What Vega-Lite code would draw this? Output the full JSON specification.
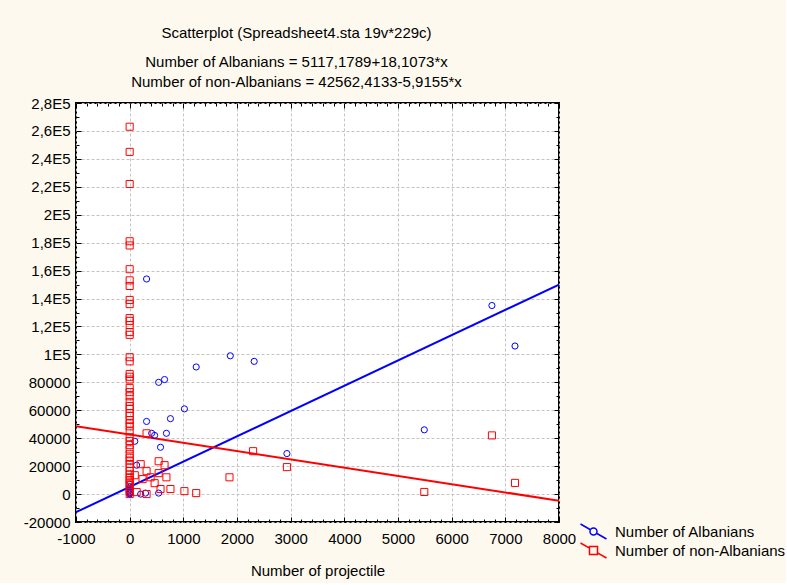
{
  "$schema": "https://vega.github.io/schema/vega-lite/v6.json",
  "width": 483,
  "height": 419,
  "padding": {"left": 23, "top": 26, "right": 0, "bottom": 5},
  "background": "#FDF9EE",
  "config": {
    "view": {"stroke": "black", "strokeWidth": 2, "fill": "white"},
    "font": "Liberation Sans",
    "axis": {"labelFont": "Liberation Sans", "titleFont": "Liberation Sans", "labelColor": "black", "titleColor": "black", "tickColor": "black", "labelFontSize": 15, "titleFontSize": 15, "titleFontWeight": "normal", "domain": false}
  },
  "title": {
    "text": "Scatterplot (Spreadsheet4.sta 19v*229c)",
    "subtitle": ["Number of Albanians = 5117,1789+18,1073*x", "Number of non-Albanians = 42562,4133-5,9155*x"],
    "anchor": "middle",
    "dx": -21,
    "font": "Liberation Sans",
    "fontSize": 15,
    "fontWeight": "normal",
    "color": "black",
    "subtitleFont": "Liberation Sans",
    "subtitleFontSize": 15,
    "subtitleColor": "black",
    "subtitlePadding": 14,
    "subtitleLineHeight": 20,
    "offset": 6
  },
  "datasets": {
    "pts": [
      {"x": 315, "n": 154000, "group": "Number of Albanians"},
      {"x": 6750, "n": 135000, "group": "Number of Albanians"},
      {"x": 7180, "n": 106000, "group": "Number of Albanians"},
      {"x": 1875, "n": 99000, "group": "Number of Albanians"},
      {"x": 2320, "n": 95000, "group": "Number of Albanians"},
      {"x": 1240, "n": 91000, "group": "Number of Albanians"},
      {"x": 650, "n": 82000, "group": "Number of Albanians"},
      {"x": 540, "n": 80000, "group": "Number of Albanians"},
      {"x": 1020, "n": 61000, "group": "Number of Albanians"},
      {"x": 315, "n": 52000, "group": "Number of Albanians"},
      {"x": 760, "n": 54000, "group": "Number of Albanians"},
      {"x": 410, "n": 43500, "group": "Number of Albanians"},
      {"x": 465, "n": 42000, "group": "Number of Albanians"},
      {"x": 685, "n": 43500, "group": "Number of Albanians"},
      {"x": 575, "n": 33500, "group": "Number of Albanians"},
      {"x": 95, "n": 37800, "group": "Number of Albanians"},
      {"x": 130, "n": 20700, "group": "Number of Albanians"},
      {"x": 540, "n": 700, "group": "Number of Albanians"},
      {"x": 295, "n": 700, "group": "Number of Albanians"},
      {"x": 205, "n": 0, "group": "Number of Albanians"},
      {"x": 2930, "n": 29000, "group": "Number of Albanians"},
      {"x": 5490, "n": 46000, "group": "Number of Albanians"},
      {"x": 0, "n": 0, "group": "Number of Albanians"},
      {"x": 0, "n": 500, "group": "Number of Albanians"},
      {"x": 0, "n": 1000, "group": "Number of Albanians"},
      {"x": 0, "n": 1500, "group": "Number of Albanians"},
      {"x": 0, "n": 2500, "group": "Number of Albanians"},
      {"x": 0, "n": 3500, "group": "Number of Albanians"},
      {"x": 0, "n": 5000, "group": "Number of Albanians"},
      {"x": 0, "n": 7000, "group": "Number of Albanians"},
      {"x": 315, "n": 43500, "group": "Number of non-Albanians"},
      {"x": 205, "n": 21400, "group": "Number of non-Albanians"},
      {"x": 95, "n": 13500, "group": "Number of non-Albanians"},
      {"x": 315, "n": 16400, "group": "Number of non-Albanians"},
      {"x": 240, "n": 10700, "group": "Number of non-Albanians"},
      {"x": 390, "n": 12000, "group": "Number of non-Albanians"},
      {"x": 540, "n": 23500, "group": "Number of non-Albanians"},
      {"x": 650, "n": 20700, "group": "Number of non-Albanians"},
      {"x": 540, "n": 15000, "group": "Number of non-Albanians"},
      {"x": 685, "n": 12000, "group": "Number of non-Albanians"},
      {"x": 465, "n": 7800, "group": "Number of non-Albanians"},
      {"x": 575, "n": 3600, "group": "Number of non-Albanians"},
      {"x": 760, "n": 3600, "group": "Number of non-Albanians"},
      {"x": 1020, "n": 2100, "group": "Number of non-Albanians"},
      {"x": 1240, "n": 700, "group": "Number of non-Albanians"},
      {"x": 130, "n": 1400, "group": "Number of non-Albanians"},
      {"x": 315, "n": 0, "group": "Number of non-Albanians"},
      {"x": 1860, "n": 12000, "group": "Number of non-Albanians"},
      {"x": 2300, "n": 30700, "group": "Number of non-Albanians"},
      {"x": 2930, "n": 19300, "group": "Number of non-Albanians"},
      {"x": 5490, "n": 1500, "group": "Number of non-Albanians"},
      {"x": 6750, "n": 42000, "group": "Number of non-Albanians"},
      {"x": 7180, "n": 8000, "group": "Number of non-Albanians"},
      {"x": 0, "n": 263000, "group": "Number of non-Albanians"},
      {"x": 0, "n": 245000, "group": "Number of non-Albanians"},
      {"x": 0, "n": 222000, "group": "Number of non-Albanians"},
      {"x": 0, "n": 181000, "group": "Number of non-Albanians"},
      {"x": 0, "n": 178000, "group": "Number of non-Albanians"},
      {"x": 0, "n": 161000, "group": "Number of non-Albanians"},
      {"x": 0, "n": 153000, "group": "Number of non-Albanians"},
      {"x": 0, "n": 149000, "group": "Number of non-Albanians"},
      {"x": 0, "n": 139000, "group": "Number of non-Albanians"},
      {"x": 0, "n": 136000, "group": "Number of non-Albanians"},
      {"x": 0, "n": 126000, "group": "Number of non-Albanians"},
      {"x": 0, "n": 124000, "group": "Number of non-Albanians"},
      {"x": 0, "n": 121000, "group": "Number of non-Albanians"},
      {"x": 0, "n": 116000, "group": "Number of non-Albanians"},
      {"x": 0, "n": 114000, "group": "Number of non-Albanians"},
      {"x": 0, "n": 98000, "group": "Number of non-Albanians"},
      {"x": 0, "n": 95000, "group": "Number of non-Albanians"},
      {"x": 0, "n": 86000, "group": "Number of non-Albanians"},
      {"x": 0, "n": 84000, "group": "Number of non-Albanians"},
      {"x": 0, "n": 82000, "group": "Number of non-Albanians"},
      {"x": 0, "n": 76000, "group": "Number of non-Albanians"},
      {"x": 0, "n": 73000, "group": "Number of non-Albanians"},
      {"x": 0, "n": 70000, "group": "Number of non-Albanians"},
      {"x": 0, "n": 66000, "group": "Number of non-Albanians"},
      {"x": 0, "n": 63000, "group": "Number of non-Albanians"},
      {"x": 0, "n": 61000, "group": "Number of non-Albanians"},
      {"x": 0, "n": 58000, "group": "Number of non-Albanians"},
      {"x": 0, "n": 56000, "group": "Number of non-Albanians"},
      {"x": 0, "n": 53000, "group": "Number of non-Albanians"},
      {"x": 0, "n": 50500, "group": "Number of non-Albanians"},
      {"x": 0, "n": 48500, "group": "Number of non-Albanians"},
      {"x": 0, "n": 45000, "group": "Number of non-Albanians"},
      {"x": 0, "n": 40700, "group": "Number of non-Albanians"},
      {"x": 0, "n": 38000, "group": "Number of non-Albanians"},
      {"x": 0, "n": 35000, "group": "Number of non-Albanians"},
      {"x": 0, "n": 32000, "group": "Number of non-Albanians"},
      {"x": 0, "n": 28500, "group": "Number of non-Albanians"},
      {"x": 0, "n": 26000, "group": "Number of non-Albanians"},
      {"x": 0, "n": 24000, "group": "Number of non-Albanians"},
      {"x": 0, "n": 21500, "group": "Number of non-Albanians"},
      {"x": 0, "n": 19000, "group": "Number of non-Albanians"},
      {"x": 0, "n": 16500, "group": "Number of non-Albanians"},
      {"x": 0, "n": 14000, "group": "Number of non-Albanians"},
      {"x": 0, "n": 12000, "group": "Number of non-Albanians"},
      {"x": 0, "n": 10000, "group": "Number of non-Albanians"},
      {"x": 0, "n": 8000, "group": "Number of non-Albanians"},
      {"x": 0, "n": 6400, "group": "Number of non-Albanians"},
      {"x": 0, "n": 3600, "group": "Number of non-Albanians"},
      {"x": 0, "n": 1800, "group": "Number of non-Albanians"},
      {"x": 0, "n": 0, "group": "Number of non-Albanians"}
    ],
    "fits": [
      {"x": -1000, "n": -12990, "group": "Number of Albanians"},
      {"x": 8000, "n": 149975, "group": "Number of Albanians"},
      {"x": -1000, "n": 48478, "group": "Number of non-Albanians"},
      {"x": 8000, "n": -4762, "group": "Number of non-Albanians"}
    ]
  },
  "layer": [
    {
      "encoding": {
        "x": {
          "field": "x", "type": "quantitative",
          "scale": {"domain": [-1000, 8000], "nice": false, "zero": false},
          "axis": {
            "orient": "bottom",
            "title": "Number of projectile",
            "titlePadding": 17,
            "values": [-1000,-800,-600,-400,-200,0,200,400,600,800,1000,1200,1400,1600,1800,2000,2200,2400,2600,2800,3000,3200,3400,3600,3800,4000,4200,4400,4600,4800,5000,5200,5400,5600,5800,6000,6200,6400,6600,6800,7000,7200,7400,7600,7800,8000],
            "labelExpr": "datum.value % 1000 === 0 ? toString(datum.value) : ''",
            "labelPadding": 14,
            "grid": true,
            "gridColor": "#c4c4c4",
            "gridDash": [3, 2],
            "gridOpacity": {"condition": {"test": "datum.value % 1000 === 0", "value": 1}, "value": 0},
            "tickSize": {"condition": {"test": "datum.value % 1000 === 0", "value": -5}, "value": -3},
            "labelFlush": false
          }
        },
        "y": {
          "field": "n", "type": "quantitative",
          "scale": {"domain": [-20000, 280000], "nice": false, "zero": false},
          "axis": {
            "orient": "left",
            "title": null,
            "values": [-20000,-10000,0,10000,20000,30000,40000,50000,60000,70000,80000,90000,100000,110000,120000,130000,140000,150000,160000,170000,180000,190000,200000,210000,220000,230000,240000,250000,260000,270000,280000],
            "labelExpr": "datum.value % 20000 !== 0 ? '' : (datum.value >= 100000 ? replace(toString(datum.value / 100000), '.', ',') + 'E5' : toString(datum.value))",
            "labelPadding": 11,
            "grid": true,
            "gridColor": "#c4c4c4",
            "gridDash": [3, 2],
            "gridOpacity": {"condition": {"test": "datum.value % 20000 === 0", "value": 1}, "value": 0},
            "tickSize": {"condition": {"test": "datum.value % 20000 === 0", "value": -5}, "value": -3},
            "labelFlush": false
          }
        }
      },
      "layer": [
        {
          "data": {"name": "fits"},
          "transform": [{"filter": "datum.group === 'Number of Albanians'"}],
          "mark": {"type": "line", "color": "#0000FF", "strokeWidth": 2, "clip": true}
        },
        {
          "data": {"name": "fits"},
          "transform": [{"filter": "datum.group === 'Number of non-Albanians'"}],
          "mark": {"type": "line", "color": "#FF0000", "strokeWidth": 2, "clip": true}
        },
        {
          "data": {"name": "pts"},
          "transform": [{"filter": "datum.group === 'Number of Albanians'"}],
          "mark": {"type": "point", "shape": "circle", "filled": false, "color": "#0000FF", "size": 38, "strokeWidth": 1, "opacity": 1}
        },
        {
          "data": {"name": "pts"},
          "transform": [{"filter": "datum.group === 'Number of non-Albanians'"}],
          "mark": {"type": "point", "shape": "square", "filled": false, "color": "#FF0000", "size": 50, "strokeWidth": 1, "opacity": 1}
        },
        {
          "data": {"name": "fits"},
          "mark": {"type": "point", "filled": false, "size": 0},
          "encoding": {
            "color": {
              "field": "group", "type": "nominal",
              "scale": {"domain": ["Number of Albanians", "Number of non-Albanians"], "range": ["#0000FF", "#FF0000"]},
              "legend": {
                "title": null, "orient": "none", "legendX": 509, "legendY": 420,
                "padding": 0, "rowPadding": -6, "symbolSize": 225, "symbolStrokeWidth": 1.5,
                "symbolFillColor": "transparent", "symbolOpacity": 1, "labelLimit": 400,
                "labelFont": "Liberation Sans", "labelFontSize": 15, "labelColor": "black", "labelOffset": 13
              }
            },
            "shape": {
              "field": "group", "type": "nominal",
              "scale": {"domain": ["Number of Albanians", "Number of non-Albanians"], "range": ["M-1.733,-1L-0.404,-0.233M0.404,0.233L1.733,1M0.467,0A0.467,0.467,0,1,1,-0.467,0A0.467,0.467,0,1,1,0.467,0Z", "M-1.733,-1L-0.533,-0.308M0.533,0.308L1.733,1M-0.533,-0.533H0.533V0.533H-0.533Z"]},
              "legend": {
                "title": null, "orient": "none", "legendX": 509, "legendY": 420,
                "padding": 0, "rowPadding": -6, "symbolSize": 225, "symbolStrokeWidth": 1.5,
                "symbolFillColor": "transparent", "symbolOpacity": 1, "labelLimit": 400,
                "labelFont": "Liberation Sans", "labelFontSize": 15, "labelColor": "black", "labelOffset": 13
              }
            }
          }
        }
      ]
    },
    {
      "data": {"name": "fits"},
      "mark": {"type": "point", "size": 0, "filled": false},
      "encoding": {
        "x": {
          "field": "x", "type": "quantitative",
          "axis": {
            "orient": "top", "title": null, "labels": false, "grid": false,
            "values": [-1000,-800,-600,-400,-200,0,200,400,600,800,1000,1200,1400,1600,1800,2000,2200,2400,2600,2800,3000,3200,3400,3600,3800,4000,4200,4400,4600,4800,5000,5200,5400,5600,5800,6000,6200,6400,6600,6800,7000,7200,7400,7600,7800,8000],
            "tickSize": {"condition": {"test": "datum.value % 1000 === 0", "value": -5}, "value": -3}
          }
        },
        "y": {
          "field": "n", "type": "quantitative",
          "axis": {
            "orient": "right", "title": null, "labels": false, "grid": false,
            "values": [-20000,-10000,0,10000,20000,30000,40000,50000,60000,70000,80000,90000,100000,110000,120000,130000,140000,150000,160000,170000,180000,190000,200000,210000,220000,230000,240000,250000,260000,270000,280000],
            "tickSize": {"condition": {"test": "datum.value % 20000 === 0", "value": -5}, "value": -3}
          }
        }
      }
    }
  ],
  "resolve": {"axis": {"x": "independent", "y": "independent"}}
}
